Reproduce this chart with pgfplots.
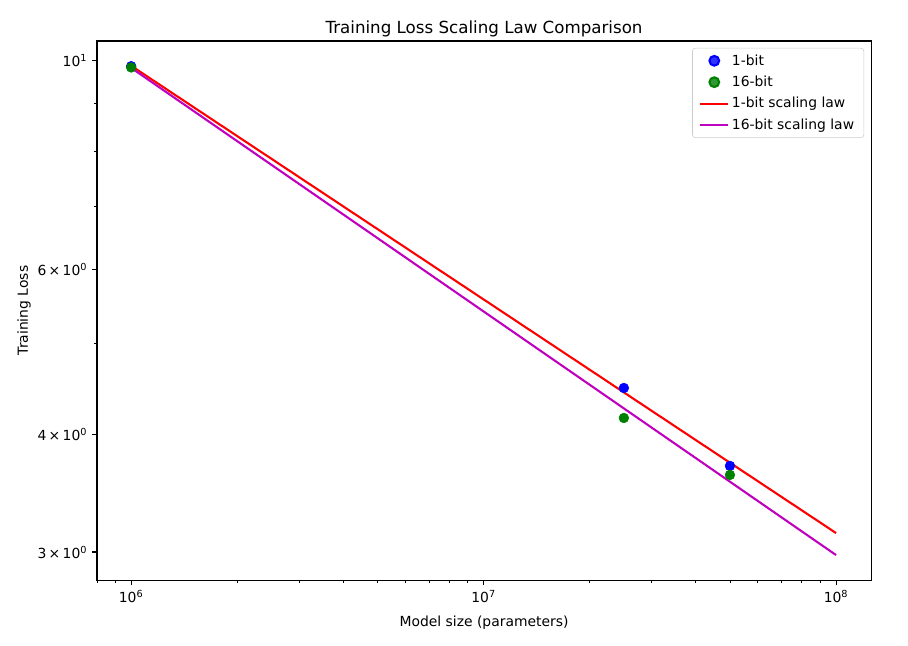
\documentclass[border=0pt]{standalone}
\usepackage{fontspec}
\setmainfont{DejaVu Sans}
\usepackage{pgfplots}
\pgfplotsset{compat=1.18}

\definecolor{mplgreen}{rgb}{0,0.5,0}
\definecolor{mplmag}{rgb}{0.75,0,0.75}

\begin{document}
\begin{tikzpicture}
\begin{axis}[
  scale only axis,
  width=557pt, height=388pt,
  xmode=log, ymode=log,
  xmin=8.0e5, xmax=1.257e8,
  ymin=2.80, ymax=10.50,
  axis line style={line width=0.8pt},
  tick align=outside,
  tick pos=left,
  major tick length=3.5pt,
  minor tick length=2pt,
  every tick/.style={black, line width=0.8pt},
  minor tick style={line width=0.6pt},
  xtick={1e6,1e7,1e8},
  xticklabels={10\textsuperscript{6},10\textsuperscript{7},10\textsuperscript{8}},
  minor xtick={8e5,9e5,2e6,3e6,4e6,5e6,6e6,7e6,8e6,9e6,2e7,3e7,4e7,5e7,6e7,7e7,8e7,9e7},
  ytick={3,4,6,10},
  yticklabels={3\,×\,10\textsuperscript{0},4\,×\,10\textsuperscript{0},6\,×\,10\textsuperscript{0},10\textsuperscript{1}},
  minor ytick={5,7,8,9},
  tick label style={font=\fontsize{10}{12}\selectfont},
  label style={font=\fontsize{10}{12}\selectfont},
  xlabel={Model size (parameters)},
  ylabel={Training Loss},
  title={Training Loss Scaling Law Comparison},
  title style={font=\fontsize{12}{14}\selectfont, yshift=-6.3pt},
  xlabel style={yshift=-3pt},
  ylabel style={yshift=-2pt},
  legend style={
    at={(1,1)}, anchor=north east, xshift=-5pt, yshift=-5pt,
    draw=black!20, rounded corners=2pt, fill=white, fill opacity=0.8, text opacity=1,
    font=\fontsize{10}{12}\selectfont, row sep=2.3pt,
    cells={anchor=west}, inner xsep=5pt, inner ysep=2.5pt,
  },
  legend image post style={line width=1.5pt},
  legend image code/.code={
    \draw[mark repeat=2,mark phase=2] plot coordinates {(0cm,0cm) (0.35cm,0cm) (0.7cm,0cm)};
  },
]
\addplot[only marks, mark=*, mark size=3.5pt, draw=blue, fill=blue] coordinates {
  (1e6, 9.87) (2.5e7, 4.485) (5e7, 3.705)
};
\addlegendentry{1-bit}
\addplot[only marks, mark=*, mark size=3.5pt, draw=mplgreen, fill=mplgreen] coordinates {
  (1e6, 9.84) (2.5e7, 4.167) (5e7, 3.624)
};
\addlegendentry{16-bit}
\addplot[red, line width=1.5pt, mark=none] coordinates {
  (1e6, 9.88) (1e8, 3.143)
};
\addlegendentry{1-bit scaling law}
\addplot[mplmag, line width=1.5pt, mark=none] coordinates {
  (1e6, 9.83) (1e8, 2.978)
};
\addlegendentry{16-bit scaling law}
\end{axis}
\path ([shift={(-69.8pt,-46.8pt)}]current axis.south west) rectangle ([shift={(26.6pt,29.5pt)}]current axis.north east);
\end{tikzpicture}
\end{document}
